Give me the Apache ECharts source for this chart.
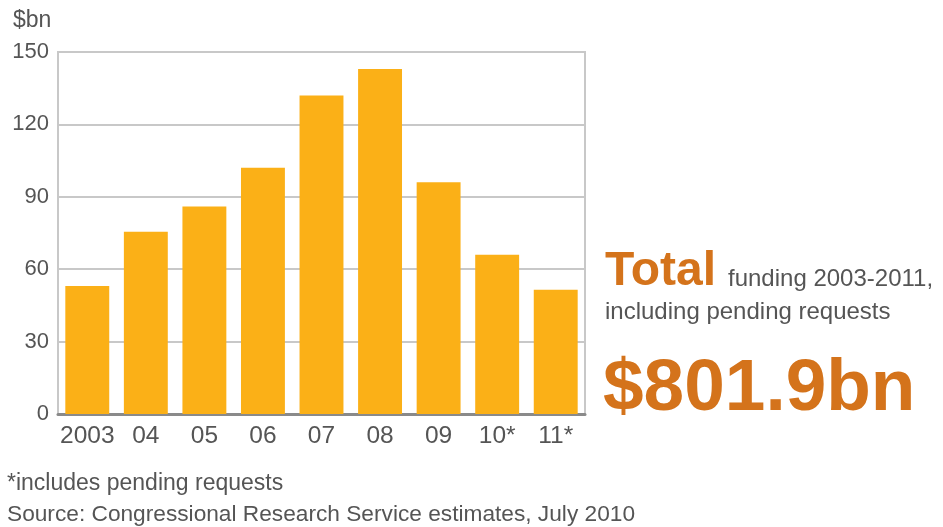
<!DOCTYPE html>
<html>
<head>
<meta charset="utf-8">
<script src="https://cdn.jsdelivr.net/npm/echarts@6/dist/echarts.min.js"></script>
<style>
  html, body { margin: 0; padding: 0; background: #fff; }
  #chart { width: 943px; height: 527px; }
</style>
</head>
<body>
<div id="chart"></div>
<script>
// Fiscal years (10 and 11 include pending requests)
const years = ['2003', '04', '05', '06', '07', '08', '09', '10*', '11*'];
// War funding per year, $bn
const funding = [53, 75.5, 86, 102, 132, 143, 96, 66, 51.5];
// Value axis range
const axisMin = 0;
const axisMax = 150;
const axisStep = 30;
// Headline total, $bn
const totalFunding = '801.9';

const GRAY = '#555555';
const ORANGE = '#d4731b';
const FONT = '"Liberation Sans", Arial, Helvetica, sans-serif';

const chart = echarts.init(document.getElementById('chart'));

chart.setOption({
  animation: false,
  backgroundColor: '#ffffff',
  grid: {
    left: 58,
    right: 358,
    top: 52,
    bottom: 113,
    show: true,
    borderColor: '#c8c8c8',
    borderWidth: 2
  },
  xAxis: {
    type: 'category',
    data: years,
    axisLine: { show: true, lineStyle: { color: '#8a8a8a', width: 3 } },
    axisTick: { show: false },
    axisLabel: {
      interval: 0,
      color: GRAY,
      fontFamily: FONT,
      fontSize: 24.5,
      margin: 10
    }
  },
  yAxis: {
    type: 'value',
    min: axisMin,
    max: axisMax,
    interval: axisStep,
    axisLine: { show: false },
    axisTick: { show: false },
    splitLine: { lineStyle: { color: '#c8c8c8', width: 2 } },
    axisLabel: {
      color: GRAY,
      fontFamily: FONT,
      fontSize: 22,
      margin: 9
    }
  },
  series: [{
    type: 'bar',
    data: funding,
    barCategoryGap: '25%',
    itemStyle: { color: '#fbb017' }
  }],
  graphic: [
    {
      type: 'text', x: 13, y: 21,
      style: { text: '$bn', fill: GRAY, font: '23px ' + FONT, textVerticalAlign: 'middle' }
    },
    {
      type: 'text', x: 605, y: 271.5,
      style: { text: 'Total', fill: ORANGE, font: 'bold 48px ' + FONT, textVerticalAlign: 'middle' }
    },
    {
      type: 'text', x: 728, y: 279,
      style: { text: 'funding 2003-2011,', fill: GRAY, font: '24px ' + FONT, textVerticalAlign: 'middle' }
    },
    {
      type: 'text', x: 605, y: 312,
      style: { text: 'including pending requests', fill: GRAY, font: '24px ' + FONT, textVerticalAlign: 'middle' }
    },
    {
      type: 'text', x: 603, y: 390,
      style: { text: '$' + totalFunding + 'bn', fill: ORANGE, font: 'bold 73px ' + FONT, textVerticalAlign: 'middle' }
    },
    {
      type: 'text', x: 7, y: 484,
      style: { text: '*includes pending requests', fill: GRAY, font: '23px ' + FONT, textVerticalAlign: 'middle' }
    },
    {
      type: 'text', x: 7, y: 515,
      style: { text: 'Source: Congressional Research Service estimates, July 2010', fill: GRAY, font: '22.7px ' + FONT, textVerticalAlign: 'middle' }
    }
  ]
});
</script>
</body>
</html>
